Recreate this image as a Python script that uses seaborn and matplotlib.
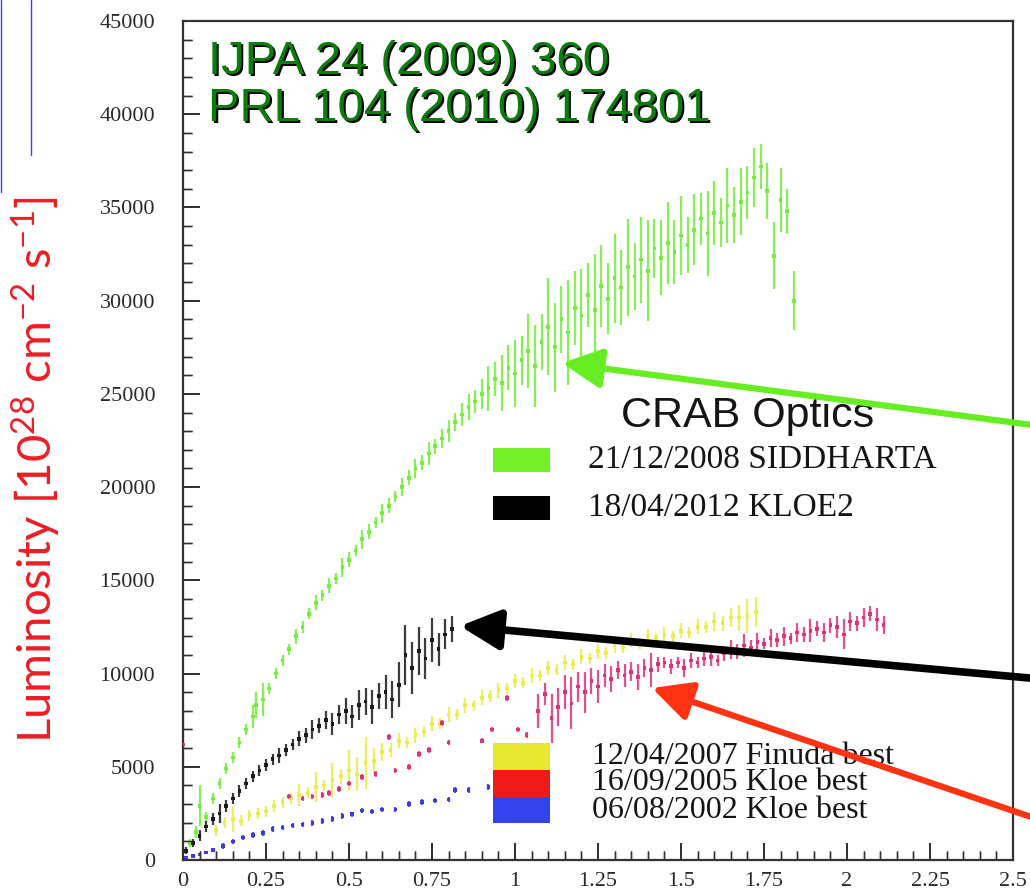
import matplotlib
matplotlib.use("Agg")
import matplotlib.pyplot as plt
from matplotlib.patches import Rectangle, FancyArrowPatch
from matplotlib.lines import Line2D
from matplotlib.ticker import MultipleLocator, FixedLocator
import seaborn as sns
import pandas as pd
import numpy as np

# ---------------- data ----------------
x_ticks = [0, 0.25, 0.5, 0.75, 1, 1.25, 1.5, 1.75, 2, 2.25, 2.5]
x_tick_labels = ["0", "0.25", "0.5", "0.75", "1", "1.25", "1.5", "1.75", "2", "2.25", "2.5"]
y_ticks = [0, 5000, 10000, 15000, 20000, 25000, 30000, 35000, 40000, 45000]
y_tick_labels = ["0", "5000", "10000", "15000", "20000", "25000", "30000", "35000", "40000", "45000"]

sidd_x = [0.02, 0.04, 0.05, 0.07, 0.09, 0.11, 0.13, 0.15, 0.17, 0.19, 0.21, 0.22, 0.24, 0.26, 0.28,
          0.30, 0.32, 0.34, 0.36, 0.38, 0.40, 0.42, 0.44, 0.46, 0.48, 0.50, 0.52, 0.54, 0.56, 0.58,
          0.60, 0.62, 0.64, 0.66, 0.68, 0.70, 0.72, 0.74, 0.76, 0.78, 0.80, 0.82, 0.84, 0.86, 0.88,
          0.90, 0.92, 0.94, 0.96, 0.98, 1.00, 1.02, 1.04, 1.06, 1.08, 1.10, 1.12, 1.14, 1.16, 1.18,
          1.20, 1.22, 1.24, 1.26, 1.28, 1.30, 1.32, 1.34, 1.36, 1.38, 1.40, 1.42, 1.44, 1.46, 1.48,
          1.50, 1.52, 1.54, 1.56, 1.58, 1.60, 1.62, 1.64, 1.66, 1.68, 1.70, 1.72, 1.74, 1.76, 1.78,
          1.80, 1.82, 1.84]
sidd_y = [900, 1500, 2900, 2300, 3300, 4100, 4900, 5500, 6300, 7000, 7700, 8300, 8600, 9200, 10000,
          10700, 11300, 12000, 12500, 13200, 13800, 14200, 14700, 15100, 15700, 16100, 16600, 17200, 17600, 18100,
          18600, 19000, 19500, 20000, 20500, 21000, 21300, 21800, 22200, 22600, 23000, 23500, 23900, 24300, 24600,
          25000, 25300, 25800, 25600, 26400, 26100, 26800, 27300, 26500, 27800, 28600, 27500, 29000, 28300, 29600,
          29200, 30300, 29500, 30800, 30100, 31200, 30700, 31800, 31300, 32200, 31600, 32800, 32300, 33100, 32600,
          33500, 33000, 33800, 34400, 33600, 34700, 34200, 35100, 34600, 35300, 35800, 36600, 37200, 35900, 32400,
          35400, 34800, 30000]
sidd_err = [200, 300, 1100, 300, 300, 300, 300, 300, 300, 300, 600, 700, 900, 300, 300,
            300, 300, 400, 300, 300, 400, 300, 400, 300, 500, 400, 300, 500, 400, 300,
            500, 400, 300, 500, 400, 500, 400, 600, 400, 500, 600, 500, 600, 700, 600,
            800, 1200, 900, 1500, 1200, 1800, 1300, 2000, 2200, 1500, 2600, 2400, 1800, 2800, 2000,
            2500, 1700, 3000, 2200, 1900, 2400, 2000, 2600, 1800, 2300, 2700, 1600, 2000, 2200, 1700,
            2100, 1500, 1900, 1400, 2300, 1700, 1300, 2000, 1500, 1800, 1400, 1600, 1200, 1500, 1800,
            1700, 1200, 1600]

kloe2_x = [0.01, 0.03, 0.05, 0.07, 0.09, 0.11, 0.13, 0.15, 0.17, 0.19, 0.21, 0.23, 0.25, 0.27, 0.29,
           0.31, 0.33, 0.35, 0.37, 0.39, 0.41, 0.43, 0.45, 0.47, 0.49, 0.51, 0.53, 0.55, 0.57, 0.59,
           0.61, 0.63, 0.65, 0.67, 0.69, 0.71, 0.73, 0.75, 0.77, 0.79, 0.81]
kloe2_y = [500, 900, 1300, 1800, 2200, 2500, 2900, 3300, 3700, 4100, 4500, 4800, 5100, 5400, 5600,
           5900, 6200, 6500, 6700, 7000, 7200, 7500, 7300, 7800, 8000, 7700, 8300, 8500, 8200, 8800,
           9000, 8600, 9400, 11000, 10300, 11200, 10800, 11800, 11300, 12100, 12400]
kloe2_err = [200, 200, 300, 300, 300, 500, 300, 300, 300, 300, 300, 300, 300, 300, 400,
             300, 300, 400, 400, 500, 400, 500, 600, 500, 700, 600, 800, 700, 900, 700,
             900, 1000, 1200, 1600, 1400, 1300, 1100, 1200, 900, 800, 700]

finuda_x = [0.100, 0.125, 0.150, 0.175, 0.200, 0.225, 0.250, 0.275, 0.300, 0.325, 0.350, 0.375,
            0.400, 0.425, 0.450, 0.475, 0.500, 0.525, 0.550, 0.575, 0.600, 0.625, 0.650, 0.675,
            0.700, 0.725, 0.750, 0.775, 0.800, 0.825, 0.850, 0.875, 0.900, 0.925, 0.950, 0.975,
            1.000, 1.025, 1.050, 1.075, 1.100, 1.125, 1.150, 1.175, 1.200, 1.225, 1.250, 1.275,
            1.300, 1.325, 1.350, 1.375, 1.400, 1.425, 1.450, 1.475, 1.500, 1.525, 1.550, 1.575,
            1.600, 1.625, 1.650, 1.675, 1.700, 1.725]
finuda_y = [1600, 2000, 2200, 2100, 2400, 2500, 2600, 2900, 3100, 3300, 3500, 3600,
            3900, 4000, 4300, 4500, 4800, 4600, 5200, 5300, 5800, 5900, 6400, 6300,
            6700, 6900, 7300, 7300, 7800, 7800, 8300, 8300, 8700, 8800, 9100, 9200,
            9600, 9500, 9900, 9900, 10300, 10200, 10600, 10500, 10900, 10800, 11200, 11100,
            11500, 11400, 11800, 11600, 12000, 11900, 12100, 12000, 12300, 12200, 12500, 12500,
            12800, 12700, 13000, 13000, 13100, 13300]
finuda_err = [300, 300, 700, 300, 300, 300, 300, 300, 300, 300, 600, 300,
              800, 300, 900, 400, 1100, 900, 1400, 700, 500, 400, 400, 300,
              400, 300, 400, 300, 400, 300, 400, 300, 400, 300, 400, 300,
              400, 300, 400, 300, 400, 300, 400, 300, 400, 300, 400, 300,
              400, 300, 400, 300, 400, 300, 400, 300, 400, 300, 400, 300,
              500, 400, 500, 700, 900, 800]

kloe05_x = [0.00, 0.32, 0.36, 0.39, 0.42, 0.44, 0.47, 0.50, 0.54, 0.58, 0.62, 0.64, 0.68, 0.71,
            0.74, 0.78, 0.80, 0.90, 0.93, 0.975, 1.01, 1.035, 1.07,
            1.09, 1.11, 1.13, 1.15, 1.17, 1.19, 1.21, 1.23, 1.25, 1.27, 1.29, 1.31, 1.33, 1.35,
            1.37, 1.39, 1.41, 1.43, 1.45, 1.47, 1.49, 1.51, 1.53, 1.55, 1.57, 1.59, 1.61, 1.63,
            1.65, 1.67, 1.69, 1.71, 1.73, 1.75, 1.77, 1.79, 1.81, 1.83, 1.85, 1.87, 1.89, 1.91,
            1.93, 1.95, 1.97, 1.99, 2.01, 2.03, 2.05, 2.07, 2.09, 2.11]
kloe05_y = [6200, 3400, 3300, 3400, 3500, 3600, 3800, 4100, 4450, 4600, 6600, 4800, 5000, 5700,
            5900, 7350, 6300, 6400, 7000, 8700, 7000, 6700, 8000,
            8900, 7600, 8200, 9000, 8400, 9300, 9000, 9600, 9300, 9900, 9700, 10200, 9900, 10100,
            9800, 10300, 10200, 10500, 10600, 10400, 10600, 10300, 10700, 10600, 10800, 10900, 10700, 11100,
            11300, 11200, 11500, 11400, 11700, 11600, 11900, 11800, 12000, 11900, 12200, 12100, 12300, 12400,
            12200, 12600, 12500, 12100, 12800, 12700, 13000, 13200, 12900, 12600]
kloe05_err = [2200, 150, 150, 150, 150, 150, 150, 150, 150, 150, 150, 150, 150, 150,
              150, 150, 150, 150, 150, 150, 150, 150, 900,
              600, 1300, 1000, 900, 1400, 800, 1100, 700, 900, 600, 700, 500, 600, 500,
              700, 500, 900, 400, 300, 400, 300, 500, 400, 300, 400, 500, 300, 400,
              500, 400, 600, 400, 500, 300, 500, 400, 500, 300, 500, 400, 600, 400,
              500, 400, 600, 800, 500, 400, 500, 400, 600, 500]

kloe02_x = [0.01, 0.03, 0.05, 0.07, 0.09, 0.12, 0.15, 0.18, 0.21, 0.24, 0.27, 0.30, 0.33, 0.36, 0.39,
            0.42, 0.45, 0.48, 0.51, 0.54, 0.57, 0.60, 0.64, 0.68, 0.72, 0.76, 0.80, 0.82, 0.86, 0.92]
kloe02_y = [100, 200, 300, 400, 550, 750, 1000, 1200, 1350, 1450, 1650, 1750, 1850, 1900, 2000,
            2100, 2200, 2350, 2450, 2650, 2600, 2700, 2700, 3000, 3100, 3200, 3250, 3750, 3750, 3900]
kloe02_err = [100, 100, 100, 100, 100, 150, 150, 150, 150, 150, 150, 150, 150, 150, 150,
              150, 150, 150, 150, 150, 150, 150, 150, 150, 150, 150, 150, 150, 150, 150]

series_names = ["21/12/2008 SIDDHARTA", "18/04/2012 KLOE2", "12/04/2007 Finuda best",
                "16/09/2005 Kloe best", "06/08/2002 Kloe best"]
data_colors = ["#72ee3a", "#1a1a1a", "#ecec48", "#e0307a", "#3a3ae0"]
legend_colors = ["#72f02a", "#000000", "#e8e830", "#ee1a1a", "#3344ee"]

title_lines = "IJPA 24 (2009) 360\nPRL 104 (2010) 174801"
legend_title = "CRAB Optics"
y_label = r"Luminosity [10$^{28}$ cm$^{-2}$ s$^{-1}$]"

# ---------------- build table ----------------
frames = []
for name, xs, ys, es in zip(series_names,
                            [sidd_x, kloe2_x, finuda_x, kloe05_x, kloe02_x],
                            [sidd_y, kloe2_y, finuda_y, kloe05_y, kloe02_y],
                            [sidd_err, kloe2_err, finuda_err, kloe05_err, kloe02_err]):
    frames.append(pd.DataFrame({"x": xs, "y": ys, "err": es, "series": name}))
df = pd.concat(frames, ignore_index=True)
palette = dict(zip(series_names, data_colors))

# ---------------- figure ----------------
sns.set_style("ticks")
plt.rcParams.update({
    "font.family": ["Liberation Serif", "DejaVu Serif"],
    "mathtext.fontset": "custom",
    "mathtext.rm": "Lato",
    "mathtext.it": "Lato",
    "xtick.direction": "in",
    "ytick.direction": "in",
    "xtick.bottom": True,
    "ytick.left": True,
    "xtick.top": False,
    "ytick.right": False,
    "xtick.major.size": 12,
    "ytick.major.size": 12,
    "xtick.minor.size": 6.5,
    "ytick.minor.size": 6.5,
    "xtick.major.width": 1.4,
    "ytick.major.width": 1.4,
    "xtick.minor.width": 1.0,
    "ytick.minor.width": 1.0,
    "xtick.color": "#333333",
    "ytick.color": "#333333",
})

W, H = 1030, 892
fig = plt.figure(figsize=(W / 100, H / 100), dpi=100)
ax = fig.add_axes([183 / W, 1 - 860 / H, (1013 - 183) / W, (860 - 21) / H])

# draw order: blue, red, yellow, black, green (green on top)
order = [4, 3, 2, 1, 0]
sns.scatterplot(data=df, x="x", y="y", hue="series", palette=palette, hue_order=[series_names[i] for i in order],
                s=7, marker="s", linewidth=0, legend=False, ax=ax, zorder=3)
for i in order:
    name = series_names[i]
    sub = df[df["series"] == name]
    ax.vlines(sub["x"].to_numpy(), (sub["y"] - sub["err"]).to_numpy(), (sub["y"] + sub["err"]).to_numpy(),
              colors=data_colors[i], linewidth=1.6, alpha=0.85, zorder=2 + i * 0.01)

x_lim = (0, 2.5)
y_lim = (0, 45000)
ax.set_xlim(*x_lim)
ax.set_ylim(*y_lim)
ax.xaxis.set_major_locator(FixedLocator(x_ticks))
ax.set_xticklabels(x_tick_labels)
ax.yaxis.set_major_locator(FixedLocator(y_ticks))
ax.set_yticklabels(y_tick_labels)
ax.xaxis.set_minor_locator(MultipleLocator(0.05))
ax.yaxis.set_minor_locator(MultipleLocator(1000))
ax.tick_params(axis="both", which="major", labelsize=16, labelcolor="#2a2a2a")
ax.tick_params(axis="y", which="major", pad=20)
ax.tick_params(axis="x", which="major", pad=9)
ax.xaxis.label.set_visible(False)
ax.yaxis.label.set_visible(False)
for sp in ax.spines.values():
    sp.set_visible(True)
    sp.set_color("#333333")
    sp.set_linewidth(1.6)

# inward tick marks, drawn in the axes' own data space (clipped to the frame)
ax_w_px, ax_h_px = 1013 - 183, 860 - 21
x_per_px = (x_lim[1] - x_lim[0]) / ax_w_px
y_per_px = (y_lim[1] - y_lim[0]) / ax_h_px
minor_y = [v for v in ax.yaxis.get_minorticklocs() if v not in y_ticks]
minor_x = [v for v in ax.xaxis.get_minorticklocs() if min(abs(v - t) for t in x_ticks) > 1e-9]
tick_col = "#333333"
ax.hlines(y_ticks, x_lim[0], x_lim[0] + 17 * x_per_px, colors=tick_col, linewidth=1.4, zorder=6)
ax.hlines(minor_y, x_lim[0], x_lim[0] + 9 * x_per_px, colors=tick_col, linewidth=1.0, zorder=6)
ax.vlines(x_ticks, y_lim[0], y_lim[0] + 17 * y_per_px, colors=tick_col, linewidth=1.4, zorder=6)
ax.vlines(minor_x, y_lim[0], y_lim[0] + 9 * y_per_px, colors=tick_col, linewidth=1.0, zorder=6)
ax.set_xlim(*x_lim)
ax.set_ylim(*y_lim)


def fx(px):
    return px / W


def fy(py):
    return 1 - py / H


# y label (red, sans)
fig.text(fx(36), fy(470), y_label, rotation=90, ha="center", va="center",
         color="#ee1c25", fontsize=34, family=["Lato", "DejaVu Sans"])

# green reference text with shadow (shadow drawn as a second text)
for dx, dy, col in [(1.5, 1.5, "black"), (0, 0, "#0b7d0b")]:
    fig.text(fx(208 + dx), fy(40 + dy), title_lines, ha="left", va="top", color=col,
             fontsize=34, family=["Liberation Sans", "DejaVu Sans"], linespacing=1.1)

# legend 1
fig.text(fx(748), fy(416), legend_title, ha="center", va="center", color="#151515",
         fontsize=31, family=["Liberation Sans", "DejaVu Sans"])
leg1_rows = [(0, 448, 472, 460), (1, 496, 520, 508)]
for i, top, bot, cy in leg1_rows:
    fig.patches.append(Rectangle((fx(493), fy(bot)), (550 - 493) / W, (bot - top) / H,
                                 transform=fig.transFigure, figure=fig,
                                 facecolor=legend_colors[i], edgecolor="none"))
    fig.text(fx(588), fy(cy), series_names[i], ha="left", va="center", color="#151515", fontsize=24)

# legend 2
leg2_rows = [(2, 743, 770, 756), (3, 770, 797, 783), (4, 797, 823, 810)]
for i, top, bot, cy in leg2_rows:
    fig.patches.append(Rectangle((fx(493), fy(bot)), (550 - 493) / W, (bot - top) / H,
                                 transform=fig.transFigure, figure=fig,
                                 facecolor=legend_colors[i], edgecolor="none"))
    fig.text(fx(592), fy(cy), series_names[i], ha="left", va="center", color="#151515", fontsize=23)

# arrows
arrows = [((1040, 426), (562, 363), "#66ee22", 4.5),
          ((1040, 679), (460, 626), "#000000", 5.5),
          ((1040, 820), (652, 688), "#ff3311", 4.5)]
for tail, head, col, lw in arrows:
    fig.patches.append(FancyArrowPatch((fx(tail[0]), fy(tail[1])), (fx(head[0]), fy(head[1])),
                                       transform=fig.transFigure, figure=fig,
                                       arrowstyle="-|>,head_length=1.5,head_width=0.75",
                                       mutation_scale=16, color=col, linewidth=lw, shrinkA=0, shrinkB=0,
                                       zorder=10))

# slide artefact lines (top-left)
fig.lines.append(Line2D([fx(31), fx(31)], [fy(0), fy(155)], transform=fig.transFigure, figure=fig,
                        color="#3344ff", linewidth=1.0))
fig.lines.append(Line2D([fx(1), fx(1)], [fy(0), fy(192)], transform=fig.transFigure, figure=fig,
                        color="#3344ff", linewidth=1.0))

fig.savefig("out.png", dpi=100, facecolor="white")
